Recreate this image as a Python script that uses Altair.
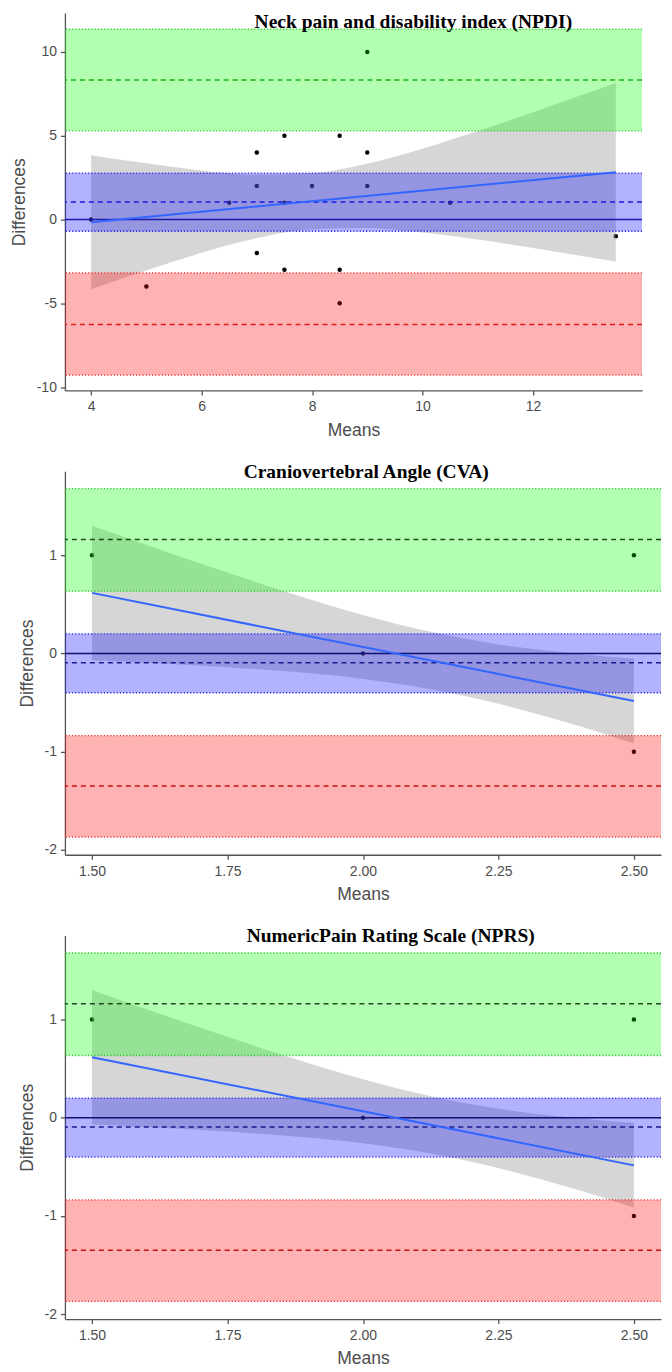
import altair as alt
import pandas as pd

band_names = ["upper", "mean", "lower"]
zero_line = [0]

# ---------------- NPDI ----------------
npdi_title = "Neck pain and disability index (NPDI)"
npdi_means = [4, 5, 6.5, 7, 7, 7, 7.5, 7.5, 7.5, 8, 8.5, 8.5, 8.5, 9, 9, 9, 10.5, 13.5]
npdi_diffs = [0, -4, 1, 4, 2, -2, 5, 1, -3, 2, 5, -3, -5, 10, 4, 2, 1, -1]
npdi_fit_x = [4, 13.5]
npdi_fit_y = [-0.16, 2.82]
npdi_ci_x = [4, 5, 6, 7, 8, 9, 10, 11, 12, 13, 13.5]
npdi_ci_lo = [-4.16, -3.04, -1.99, -1.11, -0.58, -0.51, -0.78, -1.20, -1.70, -2.24, -2.51]
npdi_ci_hi = [3.84, 3.35, 2.93, 2.67, 2.77, 3.33, 4.22, 5.28, 6.40, 7.56, 8.15]
npdi_band_lo = [5.29, -0.70, -9.28]
npdi_band_hi = [11.36, 2.77, -3.19]
npdi_band_mid = [8.32, 1.04, -6.27]
npdi_x_ticks = [4, 6, 8, 10, 12]
npdi_y_ticks = [-10, -5, 0, 5, 10]

# ---------------- CVA ----------------
cva_title = "Craniovertebral Angle (CVA)"
cva_means = [1.5, 2.0, 2.5, 2.5]
cva_diffs = [1, 0, 1, -1]
cva_fit_x = [1.5, 2.5]
cva_fit_y = [0.617, -0.485]
cva_ci_x = [1.5, 1.625, 1.75, 1.875, 2.0, 2.125, 2.25, 2.375, 2.5]
cva_ci_lo = [-0.068, -0.101, -0.140, -0.190, -0.260, -0.364, -0.512, -0.701, -0.917]
cva_ci_hi = [1.302, 1.059, 0.824, 0.598, 0.392, 0.220, 0.092, 0.007, -0.053]
cva_band_lo = [0.634, -0.40, -1.87]
cva_band_hi = [1.678, 0.20, -0.837]
cva_band_mid = [1.16, -0.095, -1.35]

# ---------------- NPRS ----------------
nprs_title = "NumericPain Rating Scale (NPRS)"
nprs_means = [1.5, 2.0, 2.5, 2.5]
nprs_diffs = [1, 0, 1, -1]
nprs_fit_x = [1.5, 2.5]
nprs_fit_y = [0.617, -0.485]
nprs_ci_x = [1.5, 1.625, 1.75, 1.875, 2.0, 2.125, 2.25, 2.375, 2.5]
nprs_ci_lo = [-0.068, -0.101, -0.140, -0.190, -0.260, -0.364, -0.512, -0.701, -0.917]
nprs_ci_hi = [1.302, 1.059, 0.824, 0.598, 0.392, 0.220, 0.092, 0.007, -0.053]
nprs_band_lo = [0.634, -0.40, -1.87]
nprs_band_hi = [1.678, 0.20, -0.837]
nprs_band_mid = [1.16, -0.095, -1.35]

small_x_ticks = [1.5, 1.75, 2.0, 2.25, 2.5]
small_y_ticks = [-2, -1, 0, 1]

band_fill = ["#00FF00", "#0000FF", "#FF0000"]
edge_colors = ["#22CC22", "#2222EE", "#EE2222"]


def panel(title, means, diffs, fit_x, fit_y, ci_x, ci_lo, ci_hi,
          b_lo, b_hi, b_mid, x_domain, y_domain, x_ticks, y_ticks, x_fmt,
          w, h, dash_colors, zero_color, title_dx, title_offset):
    pts = pd.DataFrame({"m": means, "d": diffs})
    ci = pd.DataFrame({"m": ci_x, "lo": ci_lo, "hi": ci_hi})
    fit = pd.DataFrame({"m": fit_x, "d": fit_y})
    bands = pd.DataFrame({"band": band_names, "lo": b_lo, "hi": b_hi, "mid": b_mid})
    edges = pd.DataFrame({"band": band_names * 2, "e": list(b_lo) + list(b_hi)})
    zero = pd.DataFrame({"z": zero_line})

    xs = alt.Scale(domain=x_domain, nice=False, zero=False)
    ys = alt.Scale(domain=y_domain, nice=False, zero=False)
    xa = alt.Axis(values=x_ticks, format=x_fmt, title="Means")
    ya = alt.Axis(values=y_ticks, title="Differences",
                  labelExpr="replace(datum.label, '\u2212', '-')")

    def X(f):
        return alt.X(f, type="quantitative", scale=xs, axis=xa)

    def Y(f):
        return alt.Y(f, type="quantitative", scale=ys, axis=ya)

    cband = lambda rng: alt.Color("band:N", scale=alt.Scale(domain=band_names, range=rng), legend=None)

    points = alt.Chart(pts).mark_circle(size=20, color="black", opacity=1).encode(x=X("m"), y=Y("d"))
    ribbon = alt.Chart(ci).mark_area(color="#999999", opacity=0.4, interpolate="monotone").encode(
        x=X("m"), y=Y("lo"), y2="hi")
    rects = alt.Chart(bands).mark_rect(opacity=0.3).encode(y=Y("lo"), y2="hi", color=cband(band_fill))
    dots = alt.Chart(edges).mark_rule(strokeDash=[1.2, 2], strokeWidth=1.3).encode(
        y=Y("e"), color=cband(edge_colors))
    dashes = alt.Chart(bands).mark_rule(strokeDash=[5, 4], strokeWidth=1.5).encode(
        y=Y("mid"), color=cband(dash_colors))
    zl = alt.Chart(zero).mark_rule(color=zero_color, strokeWidth=1.5).encode(y=Y("z"))
    line = alt.Chart(fit).mark_line(color="#3366FF", strokeWidth=2).encode(x=X("m"), y=Y("d"))

    return alt.layer(points, ribbon, rects, dots, dashes, zl, line).resolve_scale(
        color="independent"
    ).properties(
        width=w, height=h,
        title=alt.TitleParams(title, font="Liberation Serif", fontSize=19.5, fontWeight="bold",
                              color="black", anchor="start", frame="group", dx=title_dx,
                              offset=title_offset, baseline="middle"),
    )


p1 = panel(npdi_title, npdi_means, npdi_diffs, npdi_fit_x, npdi_fit_y, npdi_ci_x, npdi_ci_lo,
           npdi_ci_hi, npdi_band_lo, npdi_band_hi, npdi_band_mid, [3.525, 13.975], [-10.2, 12.32],
           npdi_x_ticks, npdi_y_ticks, "d", 578, 378,
           ["#18B018", "#1A1AE0", "#E01A1A"], "#1B1BA8", 190, -28)
p2 = panel(cva_title, cva_means, cva_diffs, cva_fit_x, cva_fit_y, cva_ci_x, cva_ci_lo, cva_ci_hi,
           cva_band_lo, cva_band_hi, cva_band_mid, [1.45, 2.55], [-2.05, 1.855],
           small_x_ticks, small_y_ticks, ".2f", 597, 384,
           ["#1E4A1E", "#1A1A8C", "#CC1111"], "#10106E", 179, -20)
p3 = panel(nprs_title, nprs_means, nprs_diffs, nprs_fit_x, nprs_fit_y, nprs_ci_x, nprs_ci_lo,
           nprs_ci_hi, nprs_band_lo, nprs_band_hi, nprs_band_mid, [1.45, 2.55], [-2.05, 1.855],
           small_x_ticks, small_y_ticks, ".2f", 597, 384,
           ["#1E4A1E", "#1A1A8C", "#CC1111"], "#10106E", 182, -20)

chart = alt.concat(p1, p2, p3, columns=1, spacing=22, align="none").configure_view(
    stroke=None
).configure_axis(
    grid=False, domainColor="#555555", domainWidth=1.3, tickColor="#555555", tickWidth=1.3,
    tickSize=4.5, labelFont="Liberation Sans", labelFontSize=14, labelColor="#4d4d4d",
    labelPadding=4, titleFont="Liberation Sans", titleFontSize=17.5, titleFontWeight="normal",
    titleColor="#4d4d4d"
).configure_axisX(titlePadding=7.5, labelPadding=5).configure_axisY(titlePadding=8).properties(padding=2)

chart.save("out.html", embed_options={"renderer": "svg", "actions": False})
